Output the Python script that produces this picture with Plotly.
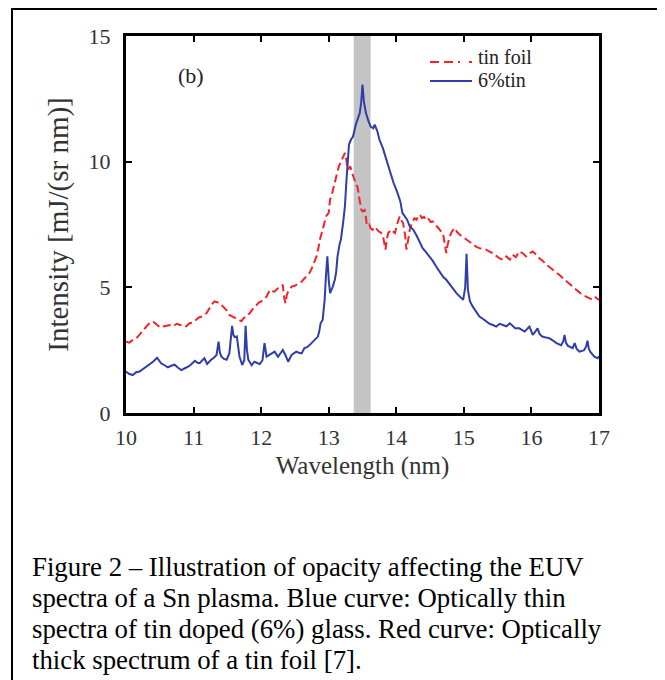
import plotly.graph_objects as go

# ---------------- data ----------------
blue_wl = [10.00, 10.05, 10.10, 10.15, 10.20, 10.25, 10.30, 10.35, 10.40, 10.46, 10.52, 10.57, 10.62, 10.67,
           10.72, 10.77, 10.82, 10.87, 10.92, 10.97, 11.02, 11.06, 11.09, 11.13, 11.16, 11.20, 11.23, 11.26,
           11.30, 11.34, 11.37, 11.39, 11.41, 11.45, 11.49, 11.53, 11.57, 11.59, 11.61, 11.64, 11.68, 11.72,
           11.75, 11.77, 11.79, 11.81, 11.86, 11.90, 11.95, 11.98, 12.02, 12.05, 12.08, 12.12, 12.15, 12.20,
           12.25, 12.28, 12.32, 12.36, 12.40, 12.45, 12.49, 12.52, 12.56, 12.60, 12.64, 12.68, 12.72, 12.76,
           12.79, 12.84, 12.86, 12.88, 12.91, 12.94, 12.96, 12.98, 13.00, 13.02, 13.06, 13.09, 13.11, 13.13,
           13.16, 13.18, 13.21, 13.24, 13.26, 13.28, 13.30, 13.33, 13.36, 13.40, 13.43, 13.46, 13.48, 13.50,
           13.52, 13.55, 13.59, 13.62, 13.66, 13.68, 13.72, 13.75, 13.80, 13.85, 13.90, 13.96, 14.01, 14.06,
           14.09, 14.13, 14.16, 14.20, 14.25, 14.30, 14.35, 14.39, 14.44, 14.49, 14.54, 14.59, 14.64, 14.69,
           14.74, 14.79, 14.84, 14.89, 14.94, 14.99, 15.02, 15.04, 15.06, 15.09, 15.13, 15.18, 15.23, 15.28,
           15.33, 15.38, 15.43, 15.48, 15.53, 15.58, 15.63, 15.68, 15.72, 15.76, 15.82, 15.86, 15.90, 15.97,
           16.02, 16.06, 16.09, 16.12, 16.16, 16.22, 16.27, 16.32, 16.37, 16.44, 16.47, 16.49, 16.51, 16.54,
           16.61, 16.64, 16.67, 16.71, 16.78, 16.81, 16.83, 16.85, 16.87, 16.93, 16.98, 17.00]
blue_int = [1.65, 1.55, 1.51, 1.62, 1.65, 1.75, 1.84, 1.92, 2.04, 2.20, 1.98, 1.90, 1.82, 1.88,
            1.92, 1.80, 1.71, 1.78, 1.84, 1.95, 2.08, 2.00, 1.98, 2.10, 2.18, 1.95, 2.05, 2.12,
            2.20, 2.31, 2.84, 2.40, 2.25, 2.15, 2.12, 2.38, 3.47, 3.10, 3.02, 3.05, 2.24, 1.91,
            2.10, 3.47, 2.50, 2.12, 1.90, 2.04, 1.98, 1.95, 2.10, 2.78, 2.24, 2.30, 2.37, 2.44,
            2.24, 2.35, 2.51, 2.30, 2.04, 2.31, 2.38, 2.44, 2.40, 2.37, 2.58, 2.62, 2.71, 2.82,
            2.91, 3.04, 3.25, 3.57, 3.70, 4.50, 5.50, 6.23, 5.30, 4.77, 5.03, 5.30, 5.60, 6.23,
            6.70, 6.90, 7.50, 8.22, 9.15, 9.90, 10.68, 10.88, 11.00, 11.47, 11.74, 11.94, 12.34, 13.07,
            12.40, 11.94, 11.60, 11.40, 11.33, 11.47, 11.21, 10.88, 10.55, 10.08, 9.68, 9.15, 8.82, 8.42,
            7.96, 7.82, 7.69, 7.42, 7.30, 7.06, 6.80, 6.56, 6.40, 6.23, 6.05, 5.83, 5.65, 5.43,
            5.30, 5.10, 4.95, 4.77, 4.62, 4.50, 5.00, 6.33, 4.90, 4.45, 4.24, 4.05, 3.84, 3.75,
            3.64, 3.55, 3.50, 3.44, 3.55, 3.50, 3.45, 3.57, 3.45, 3.37, 3.37, 3.30, 3.24, 3.44,
            3.11, 3.25, 3.37, 3.15, 3.04, 3.00, 2.97, 2.88, 2.78, 2.70, 2.85, 3.11, 2.80, 2.67,
            2.58, 2.78, 2.55, 2.44, 2.50, 2.65, 2.88, 2.55, 2.44, 2.24, 2.18, 2.25]

red_wl = [10.00, 10.05, 10.10, 10.14, 10.17, 10.21, 10.25, 10.29, 10.32, 10.36, 10.40, 10.44, 10.47, 10.51,
          10.55, 10.60, 10.65, 10.70, 10.75, 10.80, 10.84, 10.89, 10.94, 10.99, 11.04, 11.08, 11.12, 11.16,
          11.19, 11.22, 11.25, 11.28, 11.31, 11.35, 11.39, 11.43, 11.46, 11.50, 11.53, 11.57, 11.61, 11.65,
          11.68, 11.71, 11.74, 11.78, 11.83, 11.88, 11.93, 11.97, 12.00, 12.04, 12.08, 12.13, 12.16, 12.20,
          12.24, 12.27, 12.30, 12.32, 12.34, 12.36, 12.38, 12.40, 12.45, 12.49, 12.52, 12.56, 12.60, 12.64,
          12.67, 12.71, 12.74, 12.78, 12.82, 12.85, 12.87, 12.91, 12.94, 12.96, 13.00, 13.02, 13.04, 13.07,
          13.09, 13.12, 13.15, 13.18, 13.21, 13.24, 13.26, 13.28, 13.30, 13.32, 13.34, 13.36, 13.38, 13.40,
          13.43, 13.45, 13.46, 13.48, 13.50, 13.53, 13.55, 13.56, 13.58, 13.60, 13.62, 13.65, 13.68, 13.70,
          13.73, 13.75, 13.78, 13.80, 13.82, 13.84, 13.86, 13.88, 13.91, 13.93, 13.96, 13.98, 14.01, 14.03,
          14.05, 14.08, 14.10, 14.13, 14.15, 14.17, 14.20, 14.23, 14.27, 14.30, 14.33, 14.35, 14.38, 14.41,
          14.44, 14.47, 14.51, 14.54, 14.57, 14.61, 14.64, 14.67, 14.69, 14.71, 14.74, 14.76, 14.79, 14.82,
          14.86, 14.90, 14.94, 14.99, 15.04, 15.09, 15.14, 15.18, 15.23, 15.28, 15.33, 15.38, 15.43, 15.48,
          15.53, 15.58, 15.63, 15.68, 15.72, 15.77, 15.82, 15.87, 15.92, 15.97, 16.02, 16.07, 16.12, 16.17,
          16.22, 16.27, 16.32, 16.37, 16.42, 16.47, 16.52, 16.57, 16.62, 16.67, 16.71, 16.76, 16.81, 16.86,
          16.91, 16.95, 17.00]
red_int = [2.84, 2.80, 2.91, 2.95, 3.02, 3.15, 3.31, 3.40, 3.50, 3.60, 3.64, 3.55, 3.50, 3.40,
           3.44, 3.48, 3.50, 3.45, 3.55, 3.50, 3.50, 3.45, 3.57, 3.60, 3.70, 3.80, 3.84, 3.90,
           3.97, 4.10, 4.24, 4.35, 4.44, 4.42, 4.37, 4.25, 4.17, 4.05, 3.90, 3.85, 3.77, 3.72,
           3.70, 3.65, 3.77, 3.85, 3.97, 4.15, 4.30, 4.40, 4.44, 4.55, 4.63, 4.90, 4.85, 4.83,
           4.95, 4.97, 5.05, 5.10, 4.60, 4.37, 4.70, 4.83, 5.03, 5.05, 5.10, 5.18, 5.23, 5.35,
           5.43, 5.55, 5.70, 5.95, 6.23, 6.60, 6.90, 7.29, 7.69, 7.82, 7.96, 8.49, 8.62, 9.00,
           9.20, 9.50, 9.81, 10.00, 10.21, 10.35, 10.10, 9.68, 9.75, 9.81, 9.60, 9.48, 9.30, 9.15,
           8.95, 8.60, 8.35, 8.10, 8.02, 8.08, 7.80, 7.56, 7.45, 7.50, 7.35, 7.29, 7.40, 7.36,
           7.25, 7.22, 7.15, 7.09, 6.80, 6.50, 6.90, 7.16, 7.25, 7.29, 7.20, 7.16, 7.50, 7.70,
           7.82, 7.65, 7.56, 7.10, 6.50, 6.80, 7.29, 7.55, 7.75, 7.69, 7.85, 7.89, 7.75, 7.80,
           7.69, 7.75, 7.60, 7.62, 7.50, 7.40, 7.29, 7.20, 7.16, 6.80, 6.36, 6.70, 7.02, 7.20,
           7.36, 7.20, 7.09, 7.00, 6.90, 6.80, 6.70, 6.62, 6.56, 6.52, 6.50, 6.42, 6.36, 6.25,
           6.15, 6.10, 6.23, 6.10, 6.30, 6.20, 6.43, 6.36, 6.23, 6.35, 6.43, 6.30, 6.15, 6.05,
           5.90, 5.80, 5.70, 5.60, 5.48, 5.35, 5.23, 5.15, 5.00, 4.90, 4.80, 4.70, 4.63, 4.55,
           4.50, 4.60, 4.50]

series_names = ["tin foil", "6%tin"]
euv_band = [13.37, 13.62]
x_ticks = [10, 11, 12, 13, 14, 15, 16, 17]
y_ticks = [0, 5, 10, 15]
caption_lines = [
    "Figure 2 \u2013 Illustration of opacity affecting the EUV",
    "spectra of a Sn plasma. Blue curve: Optically thin",
    "spectra of tin doped (6%) glass. Red curve: Optically",
    "thick spectrum of a tin foil [7].",
]

# ---------------- figure ----------------
# the page body adds an 8px margin, so the figure is laid out 8px smaller/offset
OFF = 8
W, H = 665 - OFF, 680 - OFF
L, R, T, B = 126 - OFF, 66, 36 - OFF, 267
pw, ph = W - L - R, H - T - B


def px_x(px):  # px in reference-image coordinates
    return (px - OFF - L) / pw


def px_y(py):
    return (H - B - (py - OFF)) / ph


serif = "Liberation Serif, Times New Roman, serif"
RED = "#f2232b"
BLUE = "#2f3ea8"

fig = go.Figure()
fig.add_trace(go.Scatter(x=red_wl, y=red_int, mode="lines", name=series_names[0],
                         line=dict(color=RED, width=2, dash="8px,4px")))
fig.add_trace(go.Scatter(x=blue_wl, y=blue_int, mode="lines", name=series_names[1],
                         line=dict(color=BLUE, width=2)))

fig.add_shape(type="rect", xref="x", yref="y", x0=euv_band[0], x1=euv_band[1], y0=0, y1=15,
              fillcolor="#c4c4c4", line=dict(width=0), layer="below")

# outer frame of the figure box
fig.add_shape(type="rect", xref="paper", yref="paper",
              x0=px_x(12), x1=px_x(663), y0=px_y(700), y1=px_y(9),
              line=dict(color="black", width=2), fillcolor="rgba(0,0,0,0)")

# legend (drawn in the corner like the original)
fig.add_shape(type="line", xref="paper", yref="paper", x0=px_x(430), x1=px_x(472),
              y0=px_y(62), y1=px_y(62), line=dict(color=RED, width=2, dash="9px,5px,9px,5px,2px"))
fig.add_shape(type="line", xref="paper", yref="paper", x0=px_x(430), x1=px_x(472),
              y0=px_y(81), y1=px_y(81), line=dict(color=BLUE, width=2))
fig.add_annotation(xref="paper", yref="paper", x=px_x(477), y=px_y(57), xanchor="left",
                   yanchor="middle", text=series_names[0], showarrow=False, borderpad=0,
                   font=dict(family=serif, size=20, color="#222"))
fig.add_annotation(xref="paper", yref="paper", x=px_x(477), y=px_y(80), xanchor="left",
                   yanchor="middle", text=series_names[1], showarrow=False, borderpad=0,
                   font=dict(family=serif, size=20, color="#222"))

fig.add_annotation(xref="paper", yref="paper", x=px_x(191), y=px_y(75), text="(b)",
                   xanchor="center", yanchor="middle",
                   showarrow=False, font=dict(family=serif, size=22, color="#222"))

for i, line in enumerate(caption_lines):
    fig.add_annotation(xref="paper", yref="paper", x=px_x(30), y=px_y(567 + i * 31),
                       xanchor="left", yanchor="middle", text=line, showarrow=False,
                       font=dict(family=serif, size=26.8, color="black"))

axis_common = dict(showline=True, linecolor="black", linewidth=3, mirror="ticks",
                   ticks="inside", ticklen=6, tickwidth=2, tickcolor="black",
                   showgrid=False, zeroline=False,
                   tickfont=dict(family=serif, size=22, color="#333"))

fig.update_xaxes(range=[10, 17], tickvals=x_ticks, ticklabelstandoff=3,
                 title_text="Wavelength (nm)", title_standoff=8,
                 title_font=dict(family=serif, size=25, color="#333"), **axis_common)
fig.update_yaxes(range=[0, 15], tickvals=y_ticks, ticklabelstandoff=8,
                 title_text="Intensity [mJ/(sr nm)]", title_standoff=12,
                 title_font=dict(family=serif, size=29, color="#333"), **axis_common)

fig.update_layout(
    width=W, height=H,
    margin=dict(l=L, r=R, t=T, b=B),
    paper_bgcolor="white", plot_bgcolor="white",
    showlegend=False,
)

fig.write_html("out.html")
